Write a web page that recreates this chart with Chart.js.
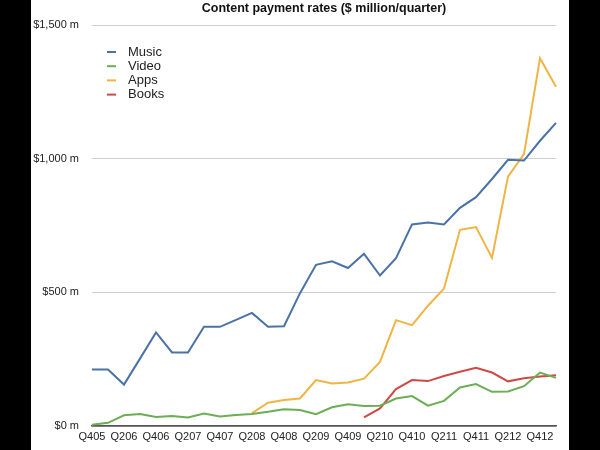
<!DOCTYPE html>
<html>
<head>
<meta charset="utf-8">
<script src="https://cdn.jsdelivr.net/npm/chart.js@4"></script>
<style>
  html, body { margin: 0; padding: 0; background: #000; }
  #frame { position: absolute; left: 31px; top: 0; width: 538px; height: 450px; background: #fff; }
</style>
</head>
<body>
<div id="frame"><canvas id="payChart" width="538" height="450"></canvas></div>
<script>
// Quarters Q405 .. Q113
const quarters = ["Q405", "Q106", "Q206", "Q306", "Q406", "Q107", "Q207", "Q307", "Q407", "Q108",
  "Q208", "Q308", "Q408", "Q109", "Q209", "Q309", "Q409", "Q110", "Q210", "Q310",
  "Q410", "Q111", "Q211", "Q311", "Q411", "Q112", "Q212", "Q312", "Q412", "Q113"];

// $ million per quarter
const music = [211, 211, 155, 252, 350, 275, 275, 371, 371, 397, 423, 371, 373, 497, 603,
  616, 591, 644, 563, 628, 754, 761, 754, 816, 856, 924, 996, 993, 1067, 1134];
const video = [5, 12, 40, 45, 34, 37, 32, 47, 36, 41, 45, 53, 63, 60, 44,
  70, 81, 75, 76, 103, 112, 76, 94, 144, 157, 128, 129, 149, 200, 180];
const apps = [null, null, null, null, null, null, null, null, null, null,
  48, 87, 97, 103, 172, 159, 163, 177, 240, 396, 377, 450, 514, 734, 744, 629, 933, 1017, 1376, 1269];
const books = [null, null, null, null, null, null, null, null, null, null, null, null, null, null, null, null, null,
  32, 66, 138, 172, 168, 187, 203, 218, 200, 167, 179, 185, 190];

const yTicks = [0, 500, 1000, 1500];

const FONT = "'Liberation Sans', Arial, Helvetica, sans-serif";

// legend drawn inside the plot, top-left
const innerLegend = {
  id: "innerLegend",
  afterDraw(chart) {
    const ctx = chart.ctx;
    ctx.save();
    ctx.font = "13px " + FONT;
    ctx.textBaseline = "middle";
    chart.data.datasets.forEach((ds, i) => {
      const y = 52 + i * 14.2;
      ctx.strokeStyle = ds.borderColor;
      ctx.lineWidth = 2;
      ctx.beginPath();
      ctx.moveTo(76, y);
      ctx.lineTo(85, y);
      ctx.stroke();
      ctx.fillStyle = "#222";
      ctx.fillText(ds.label, 97, y);
    });
    ctx.restore();
  }
};

const ctx = document.getElementById("payChart").getContext("2d");
new Chart(ctx, {
  type: "line",
  data: {
    labels: quarters,
    datasets: [
      { label: "Music", data: music, borderColor: "#4a72a6" },
      { label: "Video", data: video, borderColor: "#6bae55" },
      { label: "Apps", data: apps, borderColor: "#f0b443" },
      { label: "Books", data: books, borderColor: "#cf4a46" }
    ].map(d => Object.assign(d, { borderWidth: 2, pointRadius: 0, tension: 0, fill: false }))
  },
  options: {
    responsive: false,
    animation: false,
    layout: { padding: { left: 0, right: 13, top: 0, bottom: 0 } },
    scales: {
      x: {
        offset: false,
        grid: { display: false, drawTicks: false },
        border: { display: true, color: "#555", width: 1.5 },
        afterFit: s => { s.height = 24; },
        ticks: {
          autoSkip: false,
          maxRotation: 0,
          padding: 4,
          color: "#222",
          font: { family: FONT, size: 11 },
          callback: (v, i) => (i % 2 === 0 && i < quarters.length - 1) ? quarters[i] : ""
        }
      },
      y: {
        min: 0,
        max: 1500,
        afterBuildTicks: s => { s.ticks = yTicks.map(v => ({ value: v })); },
        afterFit: s => { s.width = 61; },
        border: { display: false },
        grid: {
          drawTicks: false,
          color: c => c.tick && c.tick.value === 0 ? "#555" : "#cfcfcf",
          lineWidth: c => c.tick && c.tick.value === 0 ? 1.5 : 1
        },
        ticks: {
          padding: 13,
          color: "#222",
          font: { family: FONT, size: 11 },
          callback: v => "$" + v.toLocaleString("en-US") + " m"
        }
      }
    },
    plugins: {
      legend: { display: false },
      tooltip: { enabled: false },
      title: {
        display: true,
        fullSize: false,
        text: "Content payment rates ($ million/quarter)",
        color: "#111",
        font: { family: FONT, size: 12.5, weight: "bold" },
        padding: { top: 1, bottom: 9 }
      }
    }
  },
  plugins: [innerLegend]
});
</script>
</body>
</html>
